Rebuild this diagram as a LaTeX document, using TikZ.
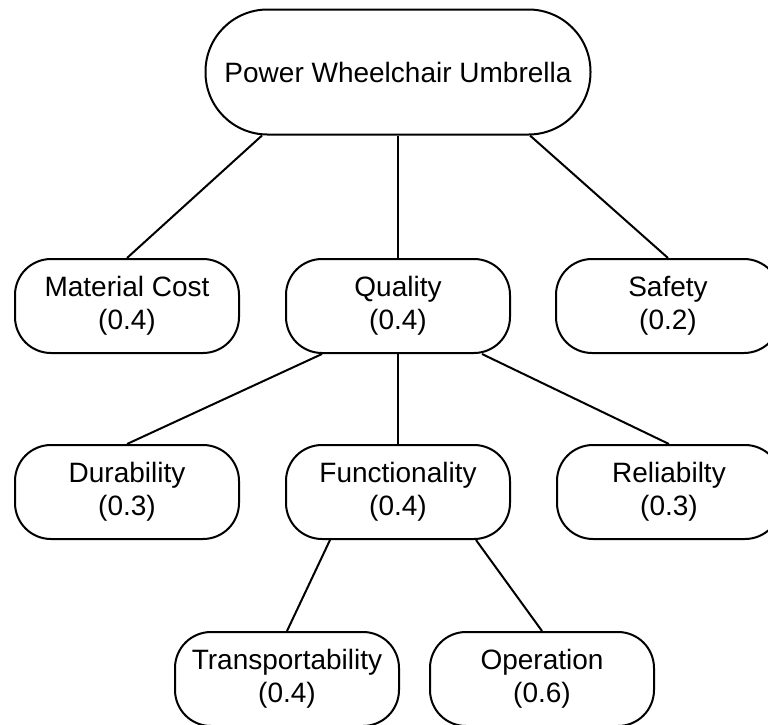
\documentclass[tikz,border=0pt]{standalone}
\usepackage{fontspec}
\setmainfont{Liberation Sans}
\usepackage{xcolor}
\usepackage{tikz}

\begin{document}
\begin{tikzpicture}[x=0.5pt, y=-0.5pt,
    goalbox/.style={draw, line width=1pt, rounded corners=31pt, minimum width=192.5pt, minimum height=62.5pt, inner sep=2pt, font=\fontsize{14}{16.5}\selectfont},
    critbox/.style={draw, line width=1pt, rounded corners=18pt, minimum width=112pt, minimum height=47pt, inner sep=2pt, align=center, font=\fontsize{14}{16.5}\selectfont},
    link/.style={line width=1pt}]
    \useasboundingbox (0,0) rectangle (768,725);

    % Goal
    \node[goalbox] (goal) at (398,72) {Power Wheelchair Umbrella};

    % Criteria
    \node[critbox] (cost) at (127,306) {Material Cost\\(0.4)};
    \node[critbox] (quality) at (398,306) {Quality\\(0.4)};
    \node[critbox] (safety) at (668,306) {Safety\\(0.2)};

    % Sub-criteria of Quality
    \node[critbox] (durab) at (127,492) {Durability\\(0.3)};
    \node[critbox] (funct) at (398,492) {Functionality\\(0.4)};
    \node[critbox] (reliab) at (669,492) {Reliabilty\\(0.3)};

    % Sub-criteria of Functionality
    \node[critbox] (transp) at (287,679) {Transportability\\(0.4)};
    \node[critbox] (oper) at (542,679) {Operation\\(0.6)};

    % Links
    \draw[link] ([xshift=-68pt]goal.south) -- (cost.north);
    \draw[link] (goal.south) -- (quality.north);
    \draw[link] ([xshift=66pt]goal.south) -- (safety.north);
    \draw[link] ([xshift=-38pt]quality.south) -- (durab.north);
    \draw[link] (quality.south) -- (funct.north);
    \draw[link] ([xshift=42pt]quality.south) -- (reliab.north);
    \draw[link] ([xshift=-34pt]funct.south) -- (transp.north);
    \draw[link] ([xshift=39pt]funct.south) -- (oper.north);
\end{tikzpicture}
\end{document}
